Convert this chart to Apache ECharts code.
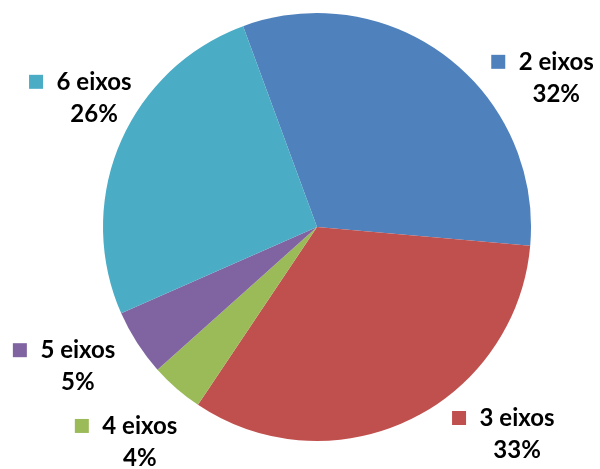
<!DOCTYPE html>
<html lang="pt">
<head>
    <meta charset="UTF-8">
    <title>Eixos</title>
    <style>
        html, body { margin: 0; padding: 0; background: #fff; }
        #app { width: 600px; height: 469px; }
    </style>
</head>
<body>
    <div id="app"></div>
    <script src="https://cdn.jsdelivr.net/npm/echarts@6/dist/echarts.min.js"></script>
    <script>
        // dados do gráfico
        var categorias = ['2 eixos', '3 eixos', '4 eixos', '5 eixos', '6 eixos']
        var valores = [32, 33, 4, 5, 26]
        var cores = ['#4F81BD', '#C0504D', '#9BBB59', '#8064A2', '#4BACC6']

        // posição dos rótulos: ângulo (graus, horário a partir do topo) e distância ao centro
        var rotuloPolar = [[56.6, 271], [137.9, 279], [221.5, 287], [241.1, 288], [298.7, 269]]
        var centro = [317, 227]

        var mychart = echarts.init(document.getElementById('app'))

        var rich = {
            g: { width: 12 },
            s: { width: 26 },
            t: {
                width: 78, align: 'center', fontSize: 24, fontWeight: 'bold',
                fontFamily: 'Lato', color: '#000', lineHeight: 32
            }
        }
        cores.forEach(function (c, i) {
            rich['m' + i] = { width: 14, height: 14, backgroundColor: c }
        })

        var dados = categorias.map(function (nome, i) {
            return { name: nome, value: valores[i], itemStyle: { color: cores[i] } }
        })

        var option = {
            animation: false,
            series: [{
                type: 'pie',
                center: centro,
                radius: 214,
                startAngle: 110.2,
                clockwise: true,
                avoidLabelOverlap: false,
                itemStyle: { borderWidth: 0 },
                emphasis: { disabled: true },
                label: {
                    show: true,
                    position: 'outside',
                    formatter: function (p) {
                        return '{m' + p.dataIndex + '|}{g|}{t|' + p.name + '}\n{s|}{t|' + p.percent + '%}'
                    },
                    rich: rich
                },
                labelLine: { show: false },
                labelLayout: function (p) {
                    var a = rotuloPolar[p.dataIndex][0] * Math.PI / 180
                    var d = rotuloPolar[p.dataIndex][1]
                    return {
                        x: centro[0] + d * Math.sin(a),
                        y: centro[1] - d * Math.cos(a),
                        align: 'center',
                        verticalAlign: 'middle'
                    }
                },
                data: dados
            }]
        }
        mychart.setOption(option)
    </script>
</body>
</html>
